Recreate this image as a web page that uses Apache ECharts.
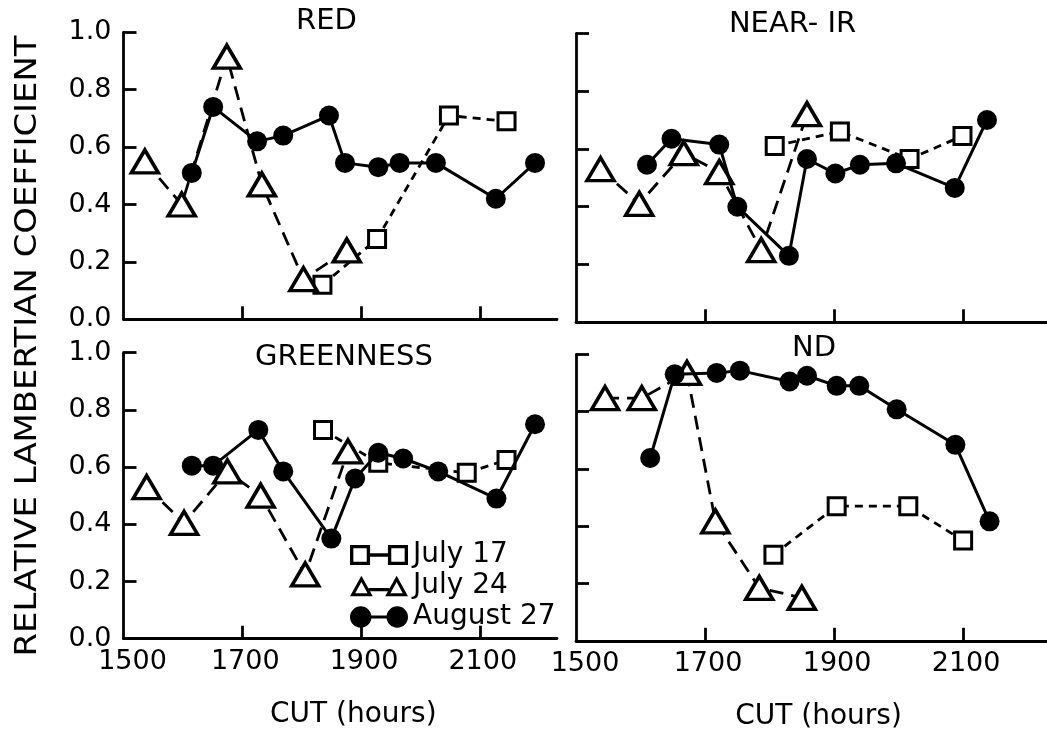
<!DOCTYPE html>
<html>
<head>
<meta charset="utf-8">
<script src="https://cdn.jsdelivr.net/npm/echarts@6/dist/echarts.min.js"></script>
<style>
html,body{margin:0;padding:0;background:#fff;}
#chart{width:1047px;height:734px;}
</style>
</head>
<body>
<div id="chart"></div>
<script>
// ---- Data (x = CUT in decimal hours, y = relative Lambertian coefficient) ----
const panelTitles = ['RED', 'NEAR- IR', 'GREENNESS', 'ND'];
const seriesNames = ['July 17', 'July 24', 'August 27'];
const xTickValues = [15, 17, 19, 21];           // labelled 1500 ... 2100
const xTickMarks = [17, 19, 21];
const yTickValues = [0, 0.2, 0.4, 0.6, 0.8, 1.0];

const redJul17 = [[18.35,0.12],[19.27,0.28],[20.48,0.71],[21.45,0.69]];
const redJul24 = [[15.36,0.55],[15.98,0.40],[16.74,0.915],[17.33,0.47],[18.03,0.14],[18.76,0.24]];
const redAug27 = [[16.15,0.51],[16.51,0.74],[17.25,0.62],[17.69,0.64],[18.46,0.71],[18.73,0.545],[19.29,0.53],[19.65,0.545],[20.26,0.545],[21.27,0.42],[21.93,0.545]];

const nirJul17 = [[18.08,0.61],[19.09,0.66],[20.17,0.565],[20.99,0.645]];
const nirJul24 = [[15.38,0.53],[15.98,0.41],[16.67,0.585],[17.22,0.52],[17.87,0.25],[18.58,0.72]];
const nirAug27 = [[16.10,0.545],[16.48,0.635],[17.22,0.615],[17.50,0.40],[18.30,0.23],[18.58,0.565],[19.02,0.515],[19.40,0.545],[19.96,0.55],[20.87,0.465],[21.37,0.70]];

const grnJul17 = [[18.36,0.73],[19.29,0.615],[20.78,0.58],[21.45,0.625]];
const grnJul24 = [[15.39,0.53],[16.02,0.405],[16.75,0.585],[17.31,0.50],[18.06,0.225],[18.78,0.655]];
const grnAug27 = [[16.15,0.605],[16.51,0.605],[17.27,0.73],[17.69,0.585],[18.50,0.35],[18.90,0.56],[19.29,0.65],[19.71,0.63],[20.30,0.585],[21.28,0.49],[21.93,0.75]];

const ndJul17 = [[18.06,0.30],[19.04,0.47],[20.15,0.47],[21.00,0.35]];
const ndJul24 = [[15.45,0.847],[16.02,0.847],[16.72,0.935],[17.16,0.417],[17.84,0.185],[18.50,0.15]];
const ndAug27 = [[16.15,0.638],[16.53,0.93],[17.18,0.935],[17.54,0.943],[18.31,0.905],[18.58,0.925],[19.04,0.89],[19.39,0.89],[19.97,0.808],[20.88,0.684],[21.41,0.417]];

const panelData = [
  [redJul17, redJul24, redAug27],
  [nirJul17, nirJul24, nirAug27],
  [grnJul17, grnJul24, grnAug27],
  [ndJul17, ndJul24, ndAug27]
];

// ---- Layout / style ----
const FONT = '"DejaVu Sans", "Liberation Sans", sans-serif';
const grids = [
  {left: 123.5, top: 32.3, width: 433.5, height: 287},
  {left: 576, top: 33.3, width: 471, height: 289},
  {left: 123.5, top: 352.7, width: 433.5, height: 286},
  {left: 576, top: 354.3, width: 471, height: 286.5}
];
const titlePos = [[326.5, 21], [792.5, 24], [344, 357], [814, 348]];
const namePad = [0, 0, 26, 14];

const labelRich = {
  first: {fontSize: 27, fontFamily: FONT, color: '#000', padding: [0, 0, 0, 18]},
  other: {fontSize: 27, fontFamily: FONT, color: '#000', padding: [0, 0, 0, 6]}
};

const xAxes = grids.map((g, i) => ({
  type: 'value', gridIndex: i, min: 15, max: 22.3, interval: 2,
  axisLine: {show: true, onZero: false, lineStyle: {color: '#000', width: 2.8}},
  axisTick: {show: true, inside: true, length: 13, customValues: xTickMarks, lineStyle: {color: '#000', width: 2.8}},
  axisLabel: {show: i >= 2, customValues: xTickValues, margin: 10, fontSize: 27, fontFamily: FONT, color: '#000',
    rich: labelRich,
    formatter: v => '{' + (v === 15 ? 'first' : 'other') + '|' + String(Math.round(v * 100)) + '}'},
  splitLine: {show: false},
  name: i >= 2 ? 'CUT (hours)' : '',
  nameLocation: 'middle', nameGap: 62,
  nameTextStyle: {fontSize: 28, fontFamily: FONT, color: '#000', padding: [0, 0, 0, namePad[i]]}
}));

const yAxes = grids.map((g, i) => ({
  type: 'value', gridIndex: i, min: 0, max: 1, interval: 0.2,
  axisLine: {show: true, onZero: false, lineStyle: {color: '#000', width: 2.8}},
  axisTick: {show: true, inside: true, length: 13, customValues: yTickValues.slice(1), lineStyle: {color: '#000', width: 2.8}},
  axisLabel: {show: i % 2 === 0, customValues: yTickValues, margin: 12, fontSize: 27, fontFamily: FONT, color: '#000',
    formatter: v => v.toFixed(1)},
  splitLine: {show: false}
}));

const seriesStyles = [
  {symbol: 'rect', symbolSize: 17, itemStyle: {color: '#fff', borderColor: '#000', borderWidth: 3},
   lineStyle: {color: '#000', width: 2.8, type: [8, 6]}},
  {symbol: 'triangle', symbolSize: [27, 23], itemStyle: {color: '#fff', borderColor: '#000', borderWidth: 3.5},
   lineStyle: {color: '#000', width: 2.8, type: [14, 8]}},
  {symbol: 'circle', symbolSize: 20, itemStyle: {color: '#000', borderWidth: 0},
   lineStyle: {color: '#000', width: 3, type: 'solid'}}
];

const series = [];
panelData.forEach((sets, p) => {
  sets.forEach((d, s) => {
    series.push(Object.assign({
      type: 'line', name: seriesNames[s], xAxisIndex: p, yAxisIndex: p,
      data: d, showAllSymbol: true, animation: false, z: 2 + s,
      emphasis: {disabled: true}
    }, seriesStyles[s]));
  });
});

// legend icons (two markers joined by a short line)
const sqIcon = 'path://M0,0L18,0L18,18L0,18Z M3,3L3,15L15,15L15,3Z M18,7.5L34,7.5L34,10.5L18,10.5Z M34,0L52,0L52,18L34,18Z M37,3L37,15L49,15L49,3Z';
const triIcon = 'path://M0,20L11,0L22,20Z M5.06,17L16.94,17L11,6.2Z M18,12L38,12L38,15L18,15Z M34,20L45,0L56,20Z M39.06,17L50.94,17L45,6.2Z';
const cirIcon = 'path://M0,10A10,10,0,1,1,20,10A10,10,0,1,1,0,10Z M18,8.5L36,8.5L36,11.5L18,11.5Z M34,10A10,10,0,1,1,54,10A10,10,0,1,1,34,10Z';

const graphics = panelTitles.map((t, i) => ({
  type: 'text', x: titlePos[i][0], y: titlePos[i][1],
  style: {text: t, fontSize: 29, fontFamily: FONT, fill: '#000',
    align: 'center', verticalAlign: 'middle', textAlign: 'center', textVerticalAlign: 'middle'}
}));
graphics.push({
  type: 'text', x: 28, y: 346, rotation: Math.PI / 2, scaleX: 1.13,
  style: {text: 'RELATIVE LAMBERTIAN COEFFICIENT', fontSize: 30, fontFamily: FONT, fill: '#000',
    align: 'center', verticalAlign: 'middle', textAlign: 'center', textVerticalAlign: 'middle'}
});

const chart = echarts.init(document.getElementById('chart'), null, {renderer: 'canvas'});
chart.setOption({
  backgroundColor: '#fff',
  animation: false,
  grid: grids.map(g => Object.assign({outerBoundsMode: 'none', containLabel: false}, g)),
  xAxis: xAxes,
  yAxis: yAxes,
  legend: {
    orient: 'vertical', left: 345, top: 536, itemWidth: 58, itemHeight: 22, itemGap: 3,
    selectedMode: false,
    itemStyle: {color: '#000', borderWidth: 0},
    textStyle: {fontSize: 28, fontFamily: FONT, color: '#000'},
    data: [
      {name: seriesNames[0], icon: sqIcon},
      {name: seriesNames[1], icon: triIcon},
      {name: seriesNames[2], icon: cirIcon}
    ]
  },
  graphic: graphics,
  series: series
});
</script>
</body>
</html>
